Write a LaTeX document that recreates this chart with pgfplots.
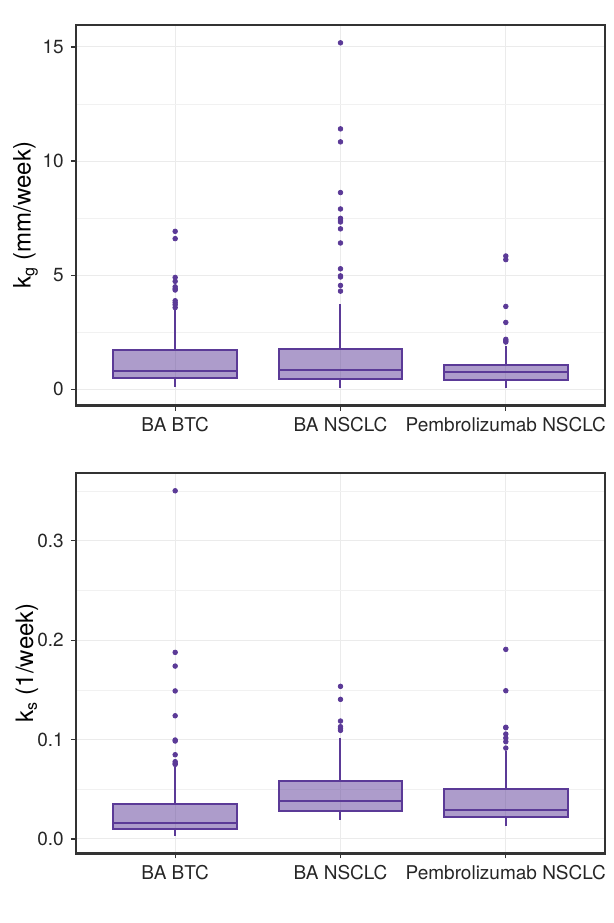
\documentclass[border=0pt]{standalone}
\usepackage{fontspec}
\setmainfont{TeX Gyre Heros}
\usepackage{pgfplots}
\pgfplotsset{compat=1.18}
\usepgfplotslibrary{statistics}
\definecolor{boxline}{HTML}{5B3A97}
\definecolor{gridc}{HTML}{EBEBEB}
\definecolor{framec}{HTML}{333333}

\pgfplotsset{
  panel/.style={
    scale only axis, anchor=south west,
    width=264.5pt, height=190.25pt,
    xmin=0.4, xmax=3.6,
    xtick={1,2,3},
    xticklabels={BA BTC, BA NSCLC, Pembrolizumab NSCLC},
    tick pos=left, tick align=outside,
    major tick length=2.6pt, minor tick length=0pt,
    every tick/.style={framec, line width=0.6pt},
    axis line style={framec, line width=1.2pt},
    xmajorgrids, ymajorgrids, yminorgrids,
    major grid style={gridc, line width=0.5pt},
    minor grid style={gridc!70, line width=0.4pt},
    ticklabel style={font=\fontsize{9.5pt}{11pt}\selectfont, black!85},
    /pgf/number format/assume math mode=true,
    ylabel style={font=\fontsize{12pt}{14pt}\selectfont, black},
    boxplot/draw direction=y,
    boxplot/box extend=0.75,
    boxplot/whisker extend=0,
    boxplot/every box/.style={draw=boxline, fill=boxline, fill opacity=0.5, line width=1pt},
    boxplot/every median/.style={draw=boxline, line width=1pt},
    boxplot/every whisker/.style={draw=boxline, line width=1pt},
  },
  bx/.style={boxline, mark=*, mark size=1.15pt, mark options={fill=boxline, draw=boxline}},
}

\begin{document}
\begin{tikzpicture}
\path[use as bounding box] (0,0) rectangle (307pt,461.5pt);

% top panel: kg
\begin{axis}[panel, at={(38pt,258.75pt)},
  ymin=-0.71, ymax=15.96,
  ytick={0,5,10,15}, minor ytick={2.5,7.5,12.5},
  ylabel={k\textsubscript{g} (mm/week)},
  ylabel style={at={(axis description cs:-0.0955,0.5)}, anchor=center},
]
\addplot[bx, boxplot prepared={draw position=1, lower whisker=0.09, lower quartile=0.495,
  median=0.815, upper quartile=1.72, upper whisker=3.5}]
  table[row sep=\\, y=y] {y\\ 3.58\\ 3.70\\ 3.79\\ 3.88\\ 4.35\\ 4.40\\ 4.49\\ 4.73\\ 4.90\\ 6.60\\ 6.92\\};
\addplot[bx, boxplot prepared={draw position=2, lower whisker=0.06, lower quartile=0.44,
  median=0.86, upper quartile=1.78, upper whisker=3.72}]
  table[row sep=\\, y=y] {y\\ 4.30\\ 4.55\\ 4.92\\ 4.97\\ 5.28\\ 6.41\\ 7.03\\ 7.33\\ 7.41\\ 7.49\\ 7.90\\ 8.62\\ 10.84\\ 11.41\\ 15.18\\};
\addplot[bx, boxplot prepared={draw position=3, lower whisker=0.06, lower quartile=0.41,
  median=0.74, upper quartile=1.08, upper whisker=1.88}]
  table[row sep=\\, y=y] {y\\ 2.07\\ 2.12\\ 2.19\\ 2.93\\ 3.63\\ 5.68\\ 5.84\\};
\end{axis}

% bottom panel: ks
\begin{axis}[panel, at={(38pt,34.85pt)},
  ymin=-0.0144, ymax=0.3685,
  ytick={0,0.1,0.2,0.3}, minor ytick={0.05,0.15,0.25,0.35},
  yticklabel style={/pgf/number format/.cd, fixed, fixed zerofill, precision=1},
  ylabel={k\textsubscript{s} (1/week)},
  ylabel style={at={(axis description cs:-0.0926,0.5)}, anchor=center},
]
\addplot[bx, boxplot prepared={draw position=1, lower whisker=0.003, lower quartile=0.0097,
  median=0.0158, upper quartile=0.0355, upper whisker=0.0721}]
  table[row sep=\\, y=y] {y\\ 0.0751\\ 0.0761\\ 0.0778\\ 0.0848\\ 0.0986\\ 0.0996\\ 0.124\\ 0.149\\ 0.174\\ 0.1878\\ 0.3504\\};
\addplot[bx, boxplot prepared={draw position=2, lower whisker=0.019, lower quartile=0.0278,
  median=0.0386, upper quartile=0.0587, upper whisker=0.102}]
  table[row sep=\\, y=y] {y\\ 0.1093\\ 0.111\\ 0.113\\ 0.1187\\ 0.1405\\ 0.1536\\};
\addplot[bx, boxplot prepared={draw position=3, lower whisker=0.013, lower quartile=0.0221,
  median=0.0288, upper quartile=0.0503, upper whisker=0.0885}]
  table[row sep=\\, y=y] {y\\ 0.0915\\ 0.0979\\ 0.1016\\ 0.1056\\ 0.112\\ 0.1124\\ 0.1492\\ 0.1908\\};
\end{axis}
\end{tikzpicture}
\end{document}
